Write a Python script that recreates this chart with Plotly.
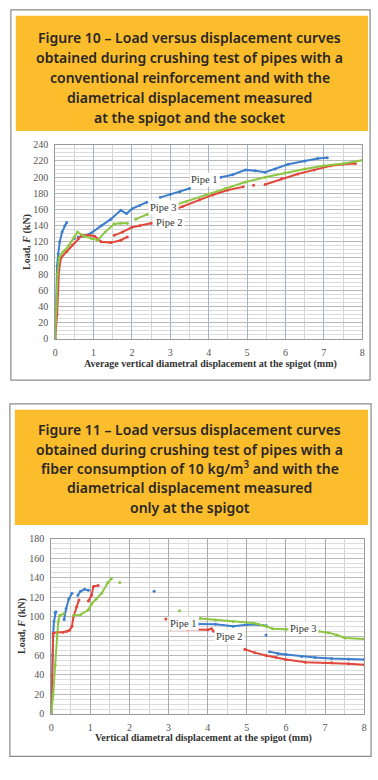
import plotly.graph_objects as go

# ---------------- data: Figure 10 ----------------
f10_p1_x = [0, 0.02, 0.05, 0.08, 0.12, 0.18, 0.25, 0.3, None, 0.5, None, 0.6, 0.75, 0.94, 1.2, 1.45, 1.71, 1.86, 2.01, 2.2, 2.39, None, 2.74, 3.0, 3.25, 3.5, None, 4.32, 4.62, 4.96, 5.21, 5.47, 5.73, 6.07, 6.5, 6.84, 7.09]
f10_p1_y = [0, 40, 90, 105, 120, 132, 140, 144, None, 124, None, 126, 127, 131, 140, 148, 159, 155, 161, 165, 169, None, 175, 179, 182, 186, None, 200, 203, 209, 208, 206, 210, 216, 220, 223, 224]
f10_p2_x = [0, 0.05, 0.1, 0.15, 0.3, 0.45, 0.6, 0.7, 0.9, 1.03, 1.2, 1.45, 1.71, 1.88, None, 1.54, 1.75, 2.0, 2.2, 2.5, None, 2.9, 3.33, 3.76, 4.1, 4.5, 4.9, None, 5.17, None, 5.47, 5.9, 6.32, 6.75, 7.18, 7.5, 7.82]
f10_p2_y = [0, 30, 85, 100, 108, 116, 124, 128, 128, 127, 120, 119, 122, 126, None, 128, 132, 138, 140, 143, None, 156, 164, 172, 178, 184, 188, None, 190, None, 191, 198, 204, 209, 214, 216, 217]
f10_p3_x = [0, 0.03, 0.06, 0.1, 0.2, 0.35, 0.5, 0.58, 0.75, 0.95, 1.11, 1.3, 1.54, 1.7, 1.88, None, 2.1, 2.4, 2.6, 2.9, 3.42, 3.93, 4.44, 4.96, 5.47, 5.98, 6.5, 7.0, 7.52, 8.0]
f10_p3_y = [0, 40, 80, 100, 107, 115, 126, 132, 127, 124, 122, 132, 142, 143, 143, None, 148, 154, 158, 162, 170, 178, 186, 194, 200, 205, 210, 214, 217, 221]

# ---------------- data: Figure 11 ----------------
f11_p1_x = [0, 0.03, 0.05, 0.07, 0.1, 0.12, None, 0.33, 0.38, 0.45, 0.53, None, 0.68, 0.75, 0.85, 0.95, None, 2.63, None, 3.77, 4.2, 4.65, 5.0, 5.3, 5.5, None, 5.49, None, 5.58, 5.8, 6.0, 6.4, 6.75, 7.17, 7.6, 8.0]
f11_p1_y = [0, 60, 82, 95, 104, 105, None, 97, 108, 118, 124, None, 122, 126, 128, 127, None, 126, None, 92.5, 92, 90, 91.5, 91.5, 90.5, None, 81, None, 64, 62, 61, 59, 58, 57, 56.5, 56]
f11_p2_x = [0, 0.02, 0.05, 0.15, 0.3, 0.4, 0.47, 0.53, 0.57, 0.65, 0.71, None, 0.95, 1.03, 1.08, 1.2, None, 2.93, None, 3.05, 3.5, 4.0, 4.1, 4.15, None, 4.95, 5.2, 5.49, 5.75, 6.0, 6.5, 7.17, 7.6, 8.0]
f11_p2_y = [0, 40, 83, 84, 84, 85, 86, 90, 100, 110, 117, None, 116, 122, 131, 132, None, 97.5, None, 87, 86.5, 86.5, 87.5, 85, None, 66.5, 63, 60, 58, 56, 53, 52.5, 51.5, 50.5]
f11_p3_x = [0, 0.05, 0.1, 0.15, 0.18, 0.22, 0.32, None, 0.57, 0.75, 0.95, 1.03, 1.15, 1.29, 1.45, 1.54, None, 1.75, None, 3.28, None, 3.81, 4.2, 4.65, 5.16, 5.49, 5.66, 6.0, 6.4, 6.84, 7.09, 7.3, 7.51, 8.0]
f11_p3_y = [0, 20, 50, 80, 95, 101, 103, None, 101, 102, 107, 113, 118, 124, 135, 139, None, 135, None, 106, None, 98, 96.5, 95, 93.5, 90, 87.5, 87, 87, 85, 83.5, 81, 78, 77]

f10_title = ["Figure 10 – Load versus displacement curves",
             "obtained during crushing test of pipes with a",
             "conventional reinforcement and with the",
             "diametrical displacement measured",
             "at the spigot and the socket"]
f11_title = ["Figure 11 – Load versus displacement curves",
             "obtained during crushing test of pipes with a",
             "fiber consumption of 10 kg/m<sup>3</sup> and with the",
             "diametrical displacement measured",
             "only at the spigot"]
f10_xtitle = "Average vertical diametral displacement at the spigot (mm)"
f11_xtitle = "Vertical diametral displacement at the spigot (mm)"
ytitle = "Load, <i>F</i> (kN)"

f10_labels = [("Pipe 1", 3.89, 197), ("Pipe 3", 2.82, 163), ("Pipe 2", 2.99, 144)]
f11_labels = [("Pipe 1", 3.39, 93), ("Pipe 2", 4.57, 80), ("Pipe 3", 6.46, 87.5)]

BLUE = "#3d7fcc"
RED = "#e2473d"
GREEN = "#8dc641"
W, H = 378, 780

def px(x):
    return x / W

def py(y):
    return 1 - y / H

fig = go.Figure()

for xs, ys, c, ax in [(f10_p1_x, f10_p1_y, BLUE, 1), (f10_p2_x, f10_p2_y, RED, 1), (f10_p3_x, f10_p3_y, GREEN, 1),
                      (f11_p1_x, f11_p1_y, BLUE, 2), (f11_p2_x, f11_p2_y, RED, 2), (f11_p3_x, f11_p3_y, GREEN, 2)]:
    fig.add_trace(go.Scatter(x=xs, y=ys, mode="lines+markers",
                             line=dict(color=c, width=2),
                             marker=dict(color=c, size=3),
                             xaxis="x" if ax == 1 else "x2",
                             yaxis="y" if ax == 1 else "y2",
                             showlegend=False, hoverinfo="skip"))

shapes = []
shapes.append(dict(type="rect", xref="paper", yref="paper", x0=px(8), x1=px(373), y0=py(380), y1=py(4),
                   line=dict(color="#8a8a8a", width=1.2), fillcolor="white", layer="below"))
shapes.append(dict(type="rect", xref="paper", yref="paper", x0=px(7), x1=px(374), y0=py(762), y1=py(404),
                   line=dict(color="#8a8a8a", width=1.2), fillcolor="white", layer="below"))
shapes.append(dict(type="rect", xref="paper", yref="paper", x0=px(13), x1=px(371), y0=py(127), y1=py(10),
                   line=dict(width=0), fillcolor="#fbbd2c", layer="below"))
shapes.append(dict(type="rect", xref="paper", yref="paper", x0=px(12), x1=px(371), y0=py(527), y1=py(410),
                   line=dict(width=0), fillcolor="#fbbd2c", layer="below"))

hfont = dict(family="Noto Sans", size=14, color="#2a2622", weight=600)
annotations = []
for i, t in enumerate(f10_title):
    annotations.append(dict(text=t, xref="paper", yref="paper", x=px(190), y=py(31.5 + 20.5 * i),
                            xanchor="center", yanchor="middle", showarrow=False, font=hfont))
for i, t in enumerate(f11_title):
    annotations.append(dict(text=t, xref="paper", yref="paper", x=px(190), y=py(430.5 + 19.6 * i),
                            xanchor="center", yanchor="middle", showarrow=False, font=hfont))

lfont = dict(family="Liberation Serif", size=10.5, color="#333")
for t, x, y in f10_labels:
    annotations.append(dict(text=t, x=x, y=y, xref="x", yref="y", showarrow=False, bgcolor="white",
                            borderpad=1, font=lfont))
for t, x, y in f11_labels:
    annotations.append(dict(text=t, x=x, y=y, xref="x2", yref="y2", showarrow=False, bgcolor="white",
                            borderpad=1, font=lfont))

titlefont = dict(family="Liberation Serif", size=10, color="#333", weight="bold")
# axis titles
annotations.append(dict(text=f10_xtitle, xref="paper", yref="paper", x=px(211), y=py(364),
                        xanchor="center", yanchor="middle", showarrow=False, font=titlefont))
annotations.append(dict(text=f11_xtitle, xref="paper", yref="paper", x=px(204), y=py(743),
                        xanchor="center", yanchor="middle", showarrow=False, font=titlefont))
annotations.append(dict(text=ytitle, xref="paper", yref="paper", x=px(25), y=py(240), textangle=-90,
                        xanchor="center", yanchor="middle", showarrow=False, font=titlefont))
annotations.append(dict(text=ytitle, xref="paper", yref="paper", x=px(20), y=py(630), textangle=-90,
                        xanchor="center", yanchor="middle", showarrow=False, font=titlefont))

tickfont = dict(family="Liberation Serif", size=10, color="#555")

def xaxis(domain, anchor, major_color):
    return dict(domain=domain, anchor=anchor, range=[0, 8], dtick=1, tick0=0,
                showgrid=True, gridcolor=major_color, gridwidth=1,
                minor=dict(dtick=0.5, showgrid=True, gridcolor="#d4d4d4", gridwidth=1),
                zeroline=False, showline=True, linecolor="#9a9a9a", mirror=True,
                ticks="outside", ticklen=4, tickcolor="rgba(0,0,0,0)", tickfont=tickfont)

def yaxis(domain, anchor, rng):
    return dict(domain=domain, anchor=anchor, range=rng, dtick=20, tick0=0,
                showgrid=True, gridcolor="#b8b8b8", gridwidth=1,
                minor=dict(dtick=5, showgrid=True, gridcolor="#dcdcdc", gridwidth=1),
                zeroline=False, showline=True, linecolor="#9a9a9a", mirror=True,
                ticks="outside", ticklen=4, tickcolor="rgba(0,0,0,0)", tickfont=tickfont)

fig.update_layout(
    width=W, height=H, margin=dict(l=0, r=0, t=0, b=0),
    paper_bgcolor="white", plot_bgcolor="white",
    xaxis=xaxis([px(53), px(365)], "y", "#9fb4cc"),
    yaxis=yaxis([py(338), py(141)], "x", [0, 240]),
    xaxis2=xaxis([px(49), px(367)], "y2", "#a8a8a8"),
    yaxis2=yaxis([py(719), py(541)], "x2", [0, 180]),
    shapes=shapes, annotations=annotations,
)

fig.write_html("out.html")
